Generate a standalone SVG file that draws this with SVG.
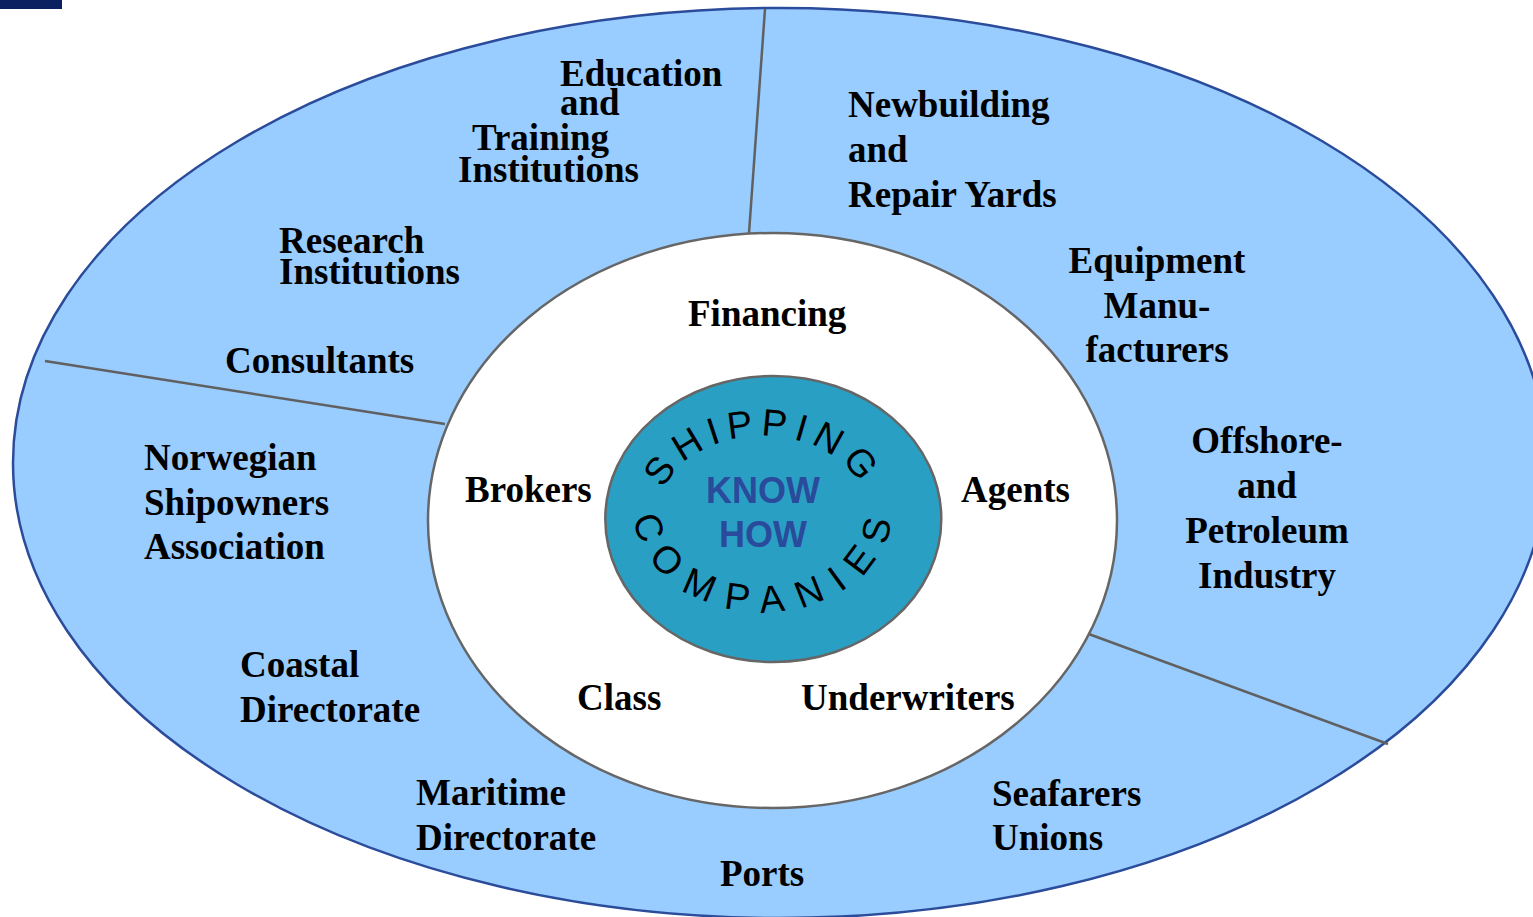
<svg xmlns="http://www.w3.org/2000/svg" xmlns:xlink="http://www.w3.org/1999/xlink" width="1533" height="917" viewBox="0 0 1533 917">
<style>
.lbl{font-family:"Liberation Serif","Times New Roman",serif;font-weight:bold;font-size:37px;fill:#000}
.mid{text-anchor:middle}
.arc{font-family:"Liberation Sans",Arial,sans-serif;font-size:38px;fill:#000}
.kh{font-family:"Liberation Sans",Arial,sans-serif;font-weight:bold;font-size:36px;fill:#2a4a9c;text-anchor:middle}
.div{stroke:#606060;stroke-width:2.5;fill:none}
</style>
<defs>
<path id="arcTop" d="M 666.2 535.3 A 103 74 0 1 1 859.8 535.3"/>
<path id="arcBot" d="M 641.8 475.1 A 129 102 0 1 0 884.2 475.1"/>
</defs>
<rect x="0" y="0" width="62" height="9" fill="#0a2060"/>
<g id="outer">
<ellipse cx="780" cy="463" rx="767" ry="455" fill="#99ccff" stroke="#2b4c9b" stroke-width="2.5"/>
</g>
<g id="connectors">
<line class="div" x1="765" y1="9" x2="749" y2="233"/>
<line class="div" x1="45" y1="361" x2="445" y2="424"/>
<line class="div" x1="1086" y1="633" x2="1388" y2="744"/>
</g>
<g id="inner">
<ellipse cx="772.5" cy="520.5" rx="344.5" ry="287.5" fill="#ffffff" stroke="#666666" stroke-width="2.5"/>
</g>
<g id="core">
<ellipse cx="773.3" cy="519" rx="168" ry="143" fill="#2a9fc4" stroke="#666666" stroke-width="2.5"/>
<text class="arc" letter-spacing="7"><textPath xlink:href="#arcTop" href="#arcTop" startOffset="50%" text-anchor="middle">SHIPPING</textPath></text>
<text class="arc" letter-spacing="15"><textPath xlink:href="#arcBot" href="#arcBot" startOffset="51.5%" text-anchor="middle">COMPANIES</textPath></text>
<text class="kh" x="763" y="503">KNOW</text>
<text class="kh" x="763" y="547">HOW</text>
</g>
<g id="education"><text class="lbl"><tspan x="560" y="86">Education</tspan><tspan x="560" y="115">and</tspan><tspan x="472" y="150">Training</tspan><tspan x="458" y="182">Institutions</tspan></text></g>
<g id="research"><text class="lbl"><tspan x="279" y="253">Research</tspan><tspan x="279" y="284">Institutions</tspan></text></g>
<g id="consultants"><text class="lbl" x="225" y="373">Consultants</text></g>
<g id="nsa"><text class="lbl"><tspan x="144" y="470">Norwegian</tspan><tspan x="144" y="515">Shipowners</tspan><tspan x="144" y="559">Association</tspan></text></g>
<g id="coastal"><text class="lbl"><tspan x="240" y="677">Coastal</tspan><tspan x="240" y="722">Directorate</tspan></text></g>
<g id="maritime"><text class="lbl"><tspan x="416" y="805">Maritime</tspan><tspan x="416" y="850">Directorate</tspan></text></g>
<g id="ports"><text class="lbl" x="720" y="886">Ports</text></g>
<g id="seafarers"><text class="lbl"><tspan x="992" y="806">Seafarers</tspan><tspan x="992" y="850">Unions</tspan></text></g>
<g id="offshore"><text class="lbl mid"><tspan x="1267" y="453">Offshore-</tspan><tspan x="1267" y="498">and</tspan><tspan x="1267" y="543">Petroleum</tspan><tspan x="1267" y="588">Industry</tspan></text></g>
<g id="equipment"><text class="lbl mid"><tspan x="1157" y="273">Equipment</tspan><tspan x="1157" y="318">Manu-</tspan><tspan x="1157" y="362">facturers</tspan></text></g>
<g id="newbuilding"><text class="lbl"><tspan x="848" y="117">Newbuilding</tspan><tspan x="848" y="162">and</tspan><tspan x="848" y="207">Repair Yards</tspan></text></g>
<g id="financing"><text class="lbl" x="688" y="326">Financing</text></g>
<g id="brokers"><text class="lbl" x="465" y="502">Brokers</text></g>
<g id="agents"><text class="lbl" x="961" y="502">Agents</text></g>
<g id="class"><text class="lbl" x="577" y="710">Class</text></g>
<g id="underwriters"><text class="lbl" x="801" y="710">Underwriters</text></g>
</svg>
